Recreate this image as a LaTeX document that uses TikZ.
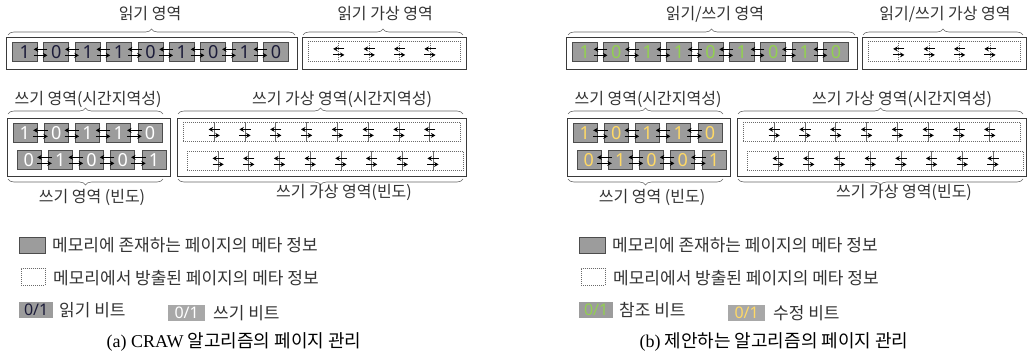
\documentclass[tikz,border=0pt]{standalone}
\usepackage{fontspec}
\setmainfont{Noto Sans CJK KR}
\newfontfamily\capfont{Liberation Serif}
\newfontfamily\digfont{Noto Sans}
\usetikzlibrary{arrows.meta,decorations.pathreplacing,calc}
\definecolor{boxfill}{HTML}{9C9C9C}
\definecolor{lightfill}{HTML}{A8A8A8}
\definecolor{boxline}{HTML}{4D4D4D}
\definecolor{framec}{HTML}{3A3A3A}
\definecolor{dotc}{HTML}{6A6A6A}
\definecolor{txt}{HTML}{333333}
\definecolor{rbit}{HTML}{1C1C3A}
\definecolor{gbit}{HTML}{92D050}
\definecolor{ybit}{HTML}{FFD966}
\tikzset{
  membox/.style={draw=boxline, fill=boxfill, line width=0.7pt, minimum width=25pt, minimum height=19pt, inner sep=0pt, anchor=north west, font=\digfont\fontsize{18}{18}\selectfont},
  evict/.style={draw=dotc, dash pattern=on 1pt off 1pt, line width=0.8pt, inner sep=0pt, anchor=north west},
  framebox/.style={draw=framec, line width=0.8pt, inner sep=0pt, anchor=north west},
  lbl/.style={font=\fontsize{16}{16}\selectfont, text=txt, inner sep=0pt},
  leg/.style={font=\fontsize{17}{17}\selectfont, text=txt, inner sep=0pt, anchor=west},
  brc/.style={decorate, decoration={brace, amplitude=6pt}, draw=black!60, line width=0.6pt},
  link/.style={-{Stealth[length=4.5pt,width=5pt]}, line width=1pt, black},
  bitbox/.style={fill=boxfill, minimum width=34pt, minimum height=16pt, inner sep=0pt, anchor=north west, font=\digfont\fontsize{16}{16}\selectfont},
}
% #1 prefix, #2 x offset, #3 read title, #4 read-virtual title, #5 read-bit colour, #6 write-bit colour, #7 legend label 1, #8 legend label 2, #9 read title x
\newcommand\drawpanel[9]{%
\begin{scope}[xshift=#2pt]
  % read region
  \node[lbl] (#1t1) at (#9,14) {#3};
  \draw[brc] (8,35) -- (295,35);
  \node[framebox, minimum width=291pt, minimum height=32pt] (#1f1) at (6,37) {};
  \foreach \b [count=\i from 0] in {1,0,1,1,0,1,0,1,0}
    \node[membox, text=#5] (#1r\i) at ({12+31.4*\i},42) {\b};
  \foreach \i in {0,...,7}{
    \pgfmathtruncatemacro\j{\i+1}
    \draw[link] ($(#1r\j.west)+(4,-2.5)$) -- ($(#1r\i.east)+(-4,-2.5)$);
    \draw[link] ($(#1r\i.east)+(-4,3.5)$) -- ($(#1r\j.west)+(4,3.5)$);
  }
  % read virtual region
  \node[lbl] (#1t2) at (385,14) {#4};
  \draw[brc] (303,35) -- (463,35);
  \node[framebox, minimum width=164pt, minimum height=32pt] (#1f2) at (302,37) {};
  \foreach \i in {0,...,4}
    \node[evict, minimum width=30.4pt, minimum height=20pt] (#1v\i) at ({308+30.4*\i},41) {};
  \foreach \i in {0,...,3}{
    \pgfmathtruncatemacro\j{\i+1}
    \draw[link] ($(#1v\j.west)+(6,-2.5)$) -- ($(#1v\i.east)+(-6,-2.5)$);
    \draw[link] ($(#1v\i.east)+(-6,3.5)$) -- ($(#1v\j.west)+(6,3.5)$);
  }
  % write region
  \node[lbl] (#1t3) at (88,99) {쓰기 영역(시간지역성)};
  \draw[brc] (8,114) -- (163,114);
  \node[framebox, minimum width=163pt, minimum height=58pt] (#1f3) at (7,118) {};
  \foreach \b [count=\i from 0] in {1,0,1,1,0}
    \node[membox, minimum width=24pt, text=#6] (#1wa\i) at ({12.5+31.3*\i},123) {\b};
  \foreach \b [count=\i from 0] in {0,1,0,0,1}
    \node[membox, minimum width=24pt, text=#6] (#1wb\i) at ({16.5+31.3*\i},150) {\b};
  \foreach \i in {0,...,3}{
    \pgfmathtruncatemacro\j{\i+1}
    \draw[link] ($(#1wa\j.west)+(4,-2.5)$) -- ($(#1wa\i.east)+(-4,-2.5)$);
    \draw[link] ($(#1wa\i.east)+(-4,3.5)$) -- ($(#1wa\j.west)+(4,3.5)$);
    \draw[link] ($(#1wb\j.west)+(4,-2.5)$) -- ($(#1wb\i.east)+(-4,-2.5)$);
    \draw[link] ($(#1wb\i.east)+(-4,3.5)$) -- ($(#1wb\j.west)+(4,3.5)$);
  }
  \draw[brc] (163,179) -- (8,179);
  \node[lbl] (#1t4) at (92,197) {쓰기 영역 (빈도)};
  % write virtual region
  \node[lbl] (#1t5) at (342,99) {쓰기 가상 영역(시간지역성)};
  \draw[brc] (178,114) -- (463,114);
  \node[framebox, minimum width=289pt, minimum height=58pt] (#1f4) at (177,118) {};
  \foreach \i in {0,...,8}{
    \node[evict, minimum width=30.8pt, minimum height=19pt] (#1xa\i) at ({183+30.8*\i},122) {};
    \node[evict, minimum width=30.7pt, minimum height=19pt] (#1xb\i) at ({187+30.7*\i},151) {};
  }
  \foreach \i in {0,...,7}{
    \pgfmathtruncatemacro\j{\i+1}
    \draw[link] ($(#1xa\j.west)+(6,-2.5)$) -- ($(#1xa\i.east)+(-6,-2.5)$);
    \draw[link] ($(#1xa\i.east)+(-6,3.5)$) -- ($(#1xa\j.west)+(6,3.5)$);
    \draw[link] ($(#1xb\j.west)+(6,-2.5)$) -- ($(#1xb\i.east)+(-6,-2.5)$);
    \draw[link] ($(#1xb\i.east)+(-6,3.5)$) -- ($(#1xb\j.west)+(6,3.5)$);
  }
  \draw[brc] (463,179) -- (178,179);
  \node[lbl] (#1t6) at (344,192) {쓰기 가상 영역(빈도)};
  % legend
  \node[membox, minimum width=26pt, minimum height=16pt] (#1lg1) at (19,237) {};
  \node[leg] (#1lt1) at (52,245) {메모리에 존재하는 페이지의 메타 정보};
  \node[evict, minimum width=24pt, minimum height=17pt] (#1lg2) at (21,268) {};
  \node[leg] (#1lt2) at (53,278) {메모리에서 방출된 페이지의 메타 정보};
  \node[bitbox, text=#5] (#1lb1) at (19,302) {0/1};
  \node[leg] (#1lt3) at (59,310) {#7};
  \node[bitbox, fill=lightfill, minimum width=37pt, text=#6] (#1lb2) at (168,305) {0/1};
  \node[leg] (#1lt4) at (213,313) {#8};
\end{scope}}
\begin{document}
\begin{tikzpicture}[x=1pt,y=-1pt]
  \fill[white] (0,0) rectangle (1027,359);
  \useasboundingbox (0,0) rectangle (1027,359);
  \drawpanel{a}{0}{읽기 영역}{읽기 가상 영역}{rbit}{white}{읽기 비트}{쓰기 비트}{150}
  \drawpanel{b}{560}{읽기/쓰기 영역}{읽기/쓰기 가상 영역}{gbit}{ybit}{참조 비트}{수정 비트}{155}
  \node[lbl, text=black, font=\fontsize{18}{18}\selectfont] (capa) at (234,342) {{\capfont (a) CRAW} 알고리즘의 페이지 관리};
  \node[lbl, text=black, font=\fontsize{18}{18}\selectfont] (capb) at (774,342) {{\capfont (b)} 제안하는 알고리즘의 페이지 관리};
\end{tikzpicture}
\end{document}
